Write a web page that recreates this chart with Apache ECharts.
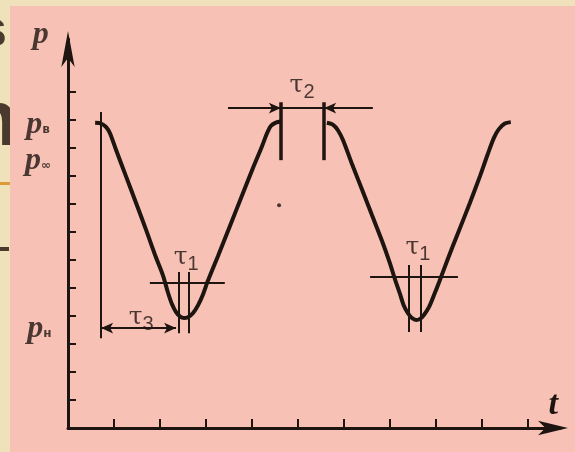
<!DOCTYPE html>
<html>
<head>
<meta charset="utf-8">
<style>
  html, body { margin: 0; padding: 0; background: #efe2bb; }
  #chart-container { width: 575px; height: 452px; }
</style>
<script src="https://cdn.jsdelivr.net/npm/echarts@6/dist/echarts.min.js"></script>
</head>
<body>
<div id="chart-container"></div>
<script>
// pressure cycle p(t)
const curveOne = [
  [0.59, 10.91], [0.72, 10.88], [0.83, 10.75], [0.91, 10.54], [1.04, 9.96],
  [1.26, 9.00], [1.48, 8.04], [1.70, 7.07], [1.91, 6.11], [2.07, 5.43],
  [2.17, 4.86], [2.26, 4.43], [2.35, 4.14], [2.44, 3.98], [2.52, 3.93],
  [2.61, 3.96], [2.72, 4.11], [2.83, 4.39], [2.94, 4.79], [3.04, 5.25],
  [3.26, 6.14], [3.52, 7.21], [3.78, 8.29], [4.04, 9.36], [4.22, 10.07],
  [4.33, 10.54], [4.41, 10.79], [4.52, 10.91], [4.63, 10.95]
];
const curveTwo = [
  [5.63, 10.91], [5.76, 10.84], [5.87, 10.64], [5.98, 10.29], [6.17, 9.46],
  [6.39, 8.54], [6.61, 7.61], [6.83, 6.68], [7.00, 5.89], [7.11, 5.32],
  [7.22, 4.79], [7.30, 4.39], [7.39, 4.11], [7.48, 3.93], [7.57, 3.86],
  [7.65, 3.89], [7.74, 4.04], [7.85, 4.32], [7.96, 4.75], [8.07, 5.21],
  [8.26, 6.04], [8.48, 6.96], [8.74, 8.04], [8.96, 9.00], [9.13, 9.79],
  [9.26, 10.36], [9.37, 10.68], [9.50, 10.88], [9.63, 10.93]
];

const xTicks = [1, 2, 3, 4, 5, 6, 7, 8, 9, 10];
const yTicks = [1, 2, 3, 4, 5, 6, 7, 8, 9, 10, 11, 12];

// guide segments [from, to]
const guideLines = [
  [[0.72, 11.29], [0.72, 3.21]],
  [[1.78, 5.18], [3.41, 5.18]],
  [[2.41, 5.57], [2.41, 3.39]],
  [[2.63, 5.57], [2.63, 3.39]],
  [[6.57, 5.39], [8.48, 5.39]],
  [[7.41, 5.82], [7.41, 3.43]],
  [[7.67, 5.82], [7.67, 3.43]],
  [[4.63, 11.43], [5.57, 11.43]]
];
const boldGuides = [
  [[4.63, 11.64], [4.63, 9.57]],
  [[5.57, 11.64], [5.57, 9.57]]
];
// arrows: [from, to, arrowAtStart]
const arrowLines = [
  [[0.72, 3.57], [2.35, 3.57], true],
  [[3.48, 11.43], [4.63, 11.43], false],
  [[6.63, 11.43], [5.57, 11.43], false]
];
const strayDot = [[4.59, 7.96]];

const tauNames = ['τ2', 'τ1', 'τ1', 'τ3'];
const tauAt = [[5.09, 12.25], [2.57, 6.11], [7.61, 6.46], [1.59, 3.96]];
const pNames = ['', 'в', '∞', 'н'];
const pAt = [[-0.59, 14.05], [-0.65, 10.82], [-0.65, 9.55], [-0.62, 3.55]];

const ink = '#1e1410';

var dom = document.getElementById('chart-container');
var myChart = echarts.init(dom, null, { renderer: 'canvas' });

function seg(a, b, s1, s2) {
  return [{ coord: a, symbol: s1 || 'none' }, { coord: b, symbol: s2 || 'none' }];
}

const labelData = tauNames.map(function (t, i) {
  return { value: tauAt[i], label: { formatter: '{t|' + t[0] + '}{s|' + t.slice(1) + '}' } };
}).concat(pNames.map(function (s, i) {
  return { value: pAt[i], label: { formatter: s ? '{p|p}{q|' + s + '}' : '{p|p}' } };
}));

var option = {
  animation: false,
  backgroundColor: '#efe2bb',
  graphic: [
    { type: 'text', left: -22, top: 6, style: { text: 's', font: 'bold 52px "Liberation Sans"', fill: '#4a392d' } },
    { type: 'text', left: -30, top: 84, style: { text: 'n', font: 'bold 78px "Liberation Sans"', fill: '#4a392d' } },
    { type: 'rect', shape: { x: 0, y: 182, width: 10, height: 3 }, style: { fill: '#dc9a38' } },
    { type: 'rect', shape: { x: 0, y: 247, width: 9, height: 4 }, style: { fill: '#4a392d' } },
    { type: 'rect', shape: { x: 10, y: 6, width: 565, height: 446 }, style: { fill: '#f7c2b5' } }
  ],
  grid: { left: 68, top: 39, width: 492, height: 389, containLabel: false },
  xAxis: {
    type: 'value', min: 0, max: 10.7, interval: 1,
    name: 't', nameLocation: 'end', nameGap: 0,
    nameTextStyle: { color: ink, fontFamily: 'Liberation Serif', fontStyle: 'italic', fontWeight: 'bold', fontSize: 34,
      align: 'right', verticalAlign: 'bottom', padding: [0, 2, 6, 0] },
    axisLine: { lineStyle: { color: ink, width: 3 }, symbol: ['none', 'arrow'], symbolSize: [11, 30], symbolOffset: [0, 8] },
    axisTick: { inside: true, length: 9, customValues: xTicks, lineStyle: { color: ink, width: 2 } },
    axisLabel: { show: false },
    splitLine: { show: false }
  },
  yAxis: {
    type: 'value', min: 0, max: 13.9, interval: 1,
    axisLine: { lineStyle: { color: ink, width: 3 }, symbol: ['none', 'arrow'], symbolSize: [10, 36], symbolOffset: [0, 8] },
    axisTick: { inside: true, length: 8, customValues: yTicks, lineStyle: { color: ink, width: 2 } },
    axisLabel: { show: false },
    splitLine: { show: false }
  },
  series: [
    {
      type: 'line', data: curveOne, smooth: 0.3, showSymbol: false, symbol: 'none',
      lineStyle: { color: ink, width: 4 }, silent: true
    },
    {
      type: 'line', data: curveTwo, smooth: 0.3, showSymbol: false, symbol: 'none',
      lineStyle: { color: ink, width: 4 }, silent: true
    },
    {
      type: 'scatter', data: strayDot, symbolSize: 4, itemStyle: { color: ink }, silent: true,
      markLine: {
        silent: true, animation: false,
        label: { show: false },
        lineStyle: { color: ink, width: 2, type: 'solid' },
        symbolSize: [8, 12],
        data: guideLines.map(function (l) { return seg(l[0], l[1]); })
          .concat(arrowLines.map(function (l) { return seg(l[0], l[1], l[2] ? 'arrow' : 'none', 'arrow'); }))
      }
    },
    {
      type: 'scatter', data: [], silent: true,
      markLine: {
        silent: true, animation: false,
        label: { show: false },
        lineStyle: { color: ink, width: 3.5, type: 'solid' },
        data: boldGuides.map(function (l) { return seg(l[0], l[1]); })
      }
    },
    {
      type: 'scatter', data: labelData, symbolSize: 0, clip: false, silent: true,
      label: {
        show: true, position: 'inside', color: ink,
        rich: {
          t: { fontFamily: 'DejaVu Serif', fontSize: 25, color: ink },
          s: { fontFamily: 'Liberation Sans', fontSize: 20, color: ink, padding: [14, 0, 0, 0] },
          p: { fontFamily: 'Liberation Serif', fontStyle: 'italic', fontWeight: 'bold', fontSize: 32, color: ink },
          q: { fontFamily: 'DejaVu Sans', fontWeight: 'bold', fontSize: 12, color: ink, padding: [10, 0, 0, 0] }
        }
      }
    }
  ]
};

if (option && typeof option === 'object') {
  myChart.setOption(option);
}

window.addEventListener('resize', myChart.resize);
</script>
</body>
</html>
